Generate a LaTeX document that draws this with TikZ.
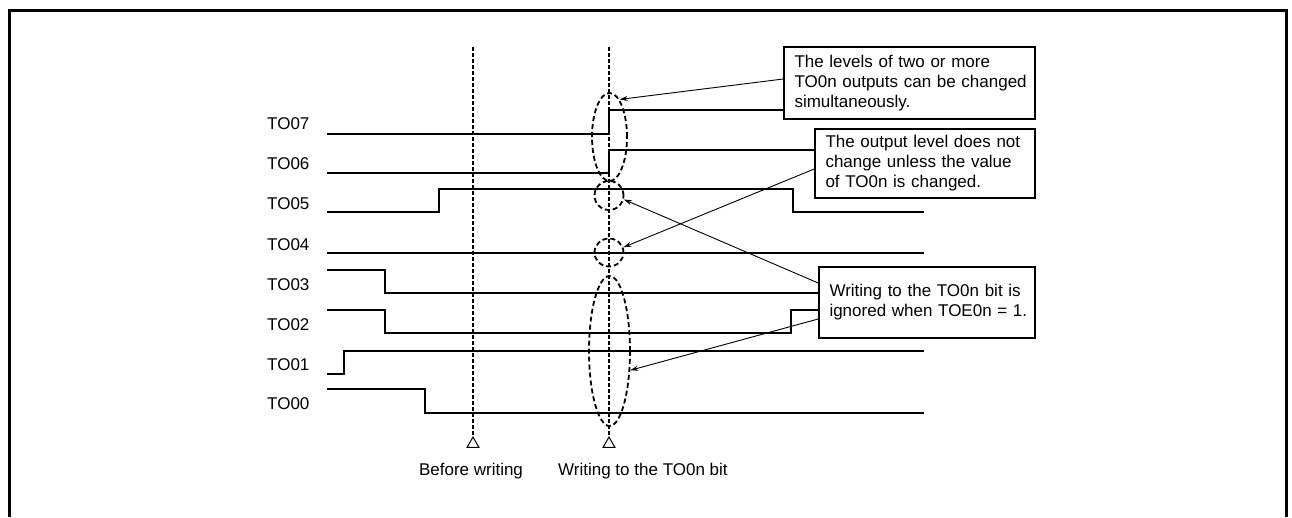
\documentclass[tikz,border=0pt]{standalone}
\usepackage{fontspec}
\setmainfont{Liberation Sans}
\usetikzlibrary{shapes.geometric,arrows.meta}
\begin{document}
\begin{tikzpicture}[x=1pt,y=-1pt,
  sig/.style={line width=2pt, line join=miter},
  vdash/.style={line width=2pt, dash pattern=on 4pt off 2pt},
  ring/.style={ellipse, draw, line width=1.8pt, dash pattern=on 5pt off 3pt, inner sep=0pt},
  note/.style={draw, line width=1.6pt, fill=white, align=left, font=\fontsize{17}{20}\selectfont, inner ysep=0pt, inner xsep=10.5pt},
  lbl/.style={font=\fontsize{17}{20}\selectfont, inner sep=0pt, anchor=west},
  timetext/.style={font=\fontsize{17}{20}\selectfont, inner sep=0pt},
  tri/.style={regular polygon, regular polygon sides=3, draw, line width=1pt, inner sep=0pt, minimum size=13.9pt, fill=white},
  pointer/.style={line width=0.9pt, -{Stealth[length=8pt,width=5pt]}},
]
\useasboundingbox (0,0) rectangle (1292,517);
\draw[line width=3pt] (9,517) -- (9,10.5) -- (1286,10.5) -- (1286,517);

% signal labels
\node[lbl] (l7) at (267,124) {TO07};
\node[lbl] (l6) at (267,164) {TO06};
\node[lbl] (l5) at (267,204) {TO05};
\node[lbl] (l4) at (267,245) {TO04};
\node[lbl] (l3) at (267,284.5) {TO03};
\node[lbl] (l2) at (267,325) {TO02};
\node[lbl] (l1) at (267,365) {TO01};
\node[lbl] (l0) at (267,404) {TO00};

% waveforms
\draw[sig] (327,133.5) -- (609,133.5) -- (609,110) -- (924,110);
\draw[sig] (327,173) -- (609,173) -- (609,150) -- (924,150);
\draw[sig] (327,212) -- (439,212) -- (439,189) -- (793,189) -- (793,212) -- (924,212);
\draw[sig] (327,253) -- (924,253);
\draw[sig] (327,270) -- (385,270) -- (385,293) -- (924,293);
\draw[sig] (327,309.5) -- (385,309.5) -- (385,333) -- (791,333) -- (791,310) -- (924,310);
\draw[sig] (327,374) -- (344,374) -- (344,351) -- (924,351);
\draw[sig] (327,389) -- (425,389) -- (425,413) -- (924,413);

% time markers
\node[tri] (t1) at (473,444) {};
\node[tri] (t2) at (609,444) {};
\coordinate (top1) at (473,47);
\coordinate (top2) at (609,47);
\draw[vdash] (top1) -- (t1.north);
\draw[vdash, line width=2.6pt] (top2) -- (t2.north);
\node[timetext, anchor=base] (bw) at (471,475.5) {Before writing};
\node[timetext, anchor=base west] (wt) at (558,475.5) {Writing to the TO0n bit};

% highlight rings
\node[ring, minimum width=35pt, minimum height=88pt] (e1) at (609.5,137) {};
\node[ring, minimum width=29pt, minimum height=29pt] (c5) at (609,195.5) {};
\node[ring, minimum width=29pt, minimum height=28pt] (c4) at (609,252.5) {};
\node[ring, minimum width=41pt, minimum height=150pt] (e4) at (609.5,351) {};

% notes
\node[note, minimum width=251pt, minimum height=72pt, text width=230pt] (b1) at (909.5,83)
  {\mbox{The levels of two or more}\\\mbox{TO0n outputs can be changed}\\\mbox{simultaneously.}};
\node[note, minimum width=220pt, minimum height=69pt, text width=199pt] (b2) at (925,163.5)
  {\mbox{The output level does not}\\\mbox{change unless the value}\\\mbox{of TO0n is changed.}};
\node[note, minimum width=216pt, minimum height=71pt, text width=195pt] (b3) at (927,302.5)
  {\mbox{Writing to the TO0n bit is}\\\mbox{ignored when TOE0n = 1.}};

% pointers
\draw[pointer] ([yshift=4pt]b1.west) -- (e1.75);
\draw[pointer] ([yshift=-5.5pt]b2.west) -- (c4.20);
\draw[pointer] ([yshift=19.5pt]b3.west) -- (c5.-15);
\draw[pointer] ([yshift=-16.5pt]b3.west) -- (e4.-43);
\end{tikzpicture}
\end{document}
